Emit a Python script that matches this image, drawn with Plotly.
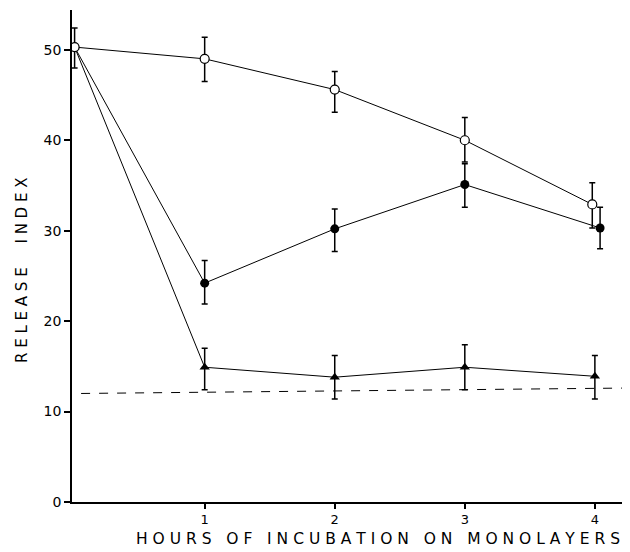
import plotly.graph_objects as go

# Hours of incubation
hours_open = [0, 1, 2, 3, 3.98]
hours_filled = [0, 1, 2, 3, 4.04]
hours_tri = [0, 1, 2, 3, 4]

# Open circles
open_mean = [50.3, 49.0, 45.6, 40.0, 32.9]
open_upper = [50.3, 51.4, 47.6, 42.5, 35.3]
open_lower = [50.3, 46.5, 43.1, 37.6, 30.3]

# Filled circles
filled_mean = [50.3, 24.2, 30.2, 35.1, 30.3]
filled_upper = [52.4, 26.7, 32.4, 37.4, 32.6]
filled_lower = [48.0, 21.9, 27.7, 32.6, 28.0]

# Filled triangles
tri_mean = [50.3, 14.9, 13.8, 14.9, 13.9]
tri_upper = [50.3, 17.0, 16.2, 17.4, 16.2]
tri_lower = [50.3, 12.4, 11.4, 12.4, 11.4]

# Dashed baseline
base_x = [0.05, 4.25]
base_y = [12.0, 12.6]

y_ticks = [0, 10, 20, 30, 40, 50]
x_ticks = [1, 2, 3, 4]

x_title = "H O U R S   O F   I N C U B A T I O N   O N   M O N O L A Y E R S"
y_title = "R E L E A S E     I N D E X"

# page body has an 8px margin; figure sized to fit inside the window
OFF = 8
W, H = 630 - OFF, 552 - OFF
L, T, B = 72 - OFF, 10 - OFF, 50
PW, PH = W - L, H - T - B


def err(mean, up, lo):
    return dict(type="data", symmetric=False,
                array=[u - m for u, m in zip(up, mean)],
                arrayminus=[m - l for m, l in zip(mean, lo)],
                color="black", thickness=1.5, width=3)


fig = go.Figure()
fig.add_trace(go.Scatter(x=base_x, y=base_y, mode="lines",
                         line=dict(color="black", width=1, dash="dash"),
                         showlegend=False, hoverinfo="skip"))
fig.add_trace(go.Scatter(x=hours_tri, y=tri_mean, mode="lines+markers",
                         line=dict(color="black", width=1),
                         marker=dict(symbol="triangle-up", size=9, color="black"),
                         error_y=err(tri_mean, tri_upper, tri_lower),
                         showlegend=False))
fig.add_trace(go.Scatter(x=hours_filled, y=filled_mean, mode="lines+markers",
                         line=dict(color="black", width=1),
                         marker=dict(symbol="circle", size=9, color="black"),
                         error_y=err(filled_mean, filled_upper, filled_lower),
                         showlegend=False))
fig.add_trace(go.Scatter(x=hours_open, y=open_mean, mode="lines+markers",
                         line=dict(color="black", width=1),
                         marker=dict(symbol="circle", size=9, color="white",
                                     line=dict(color="black", width=1.2)),
                         error_y=err(open_mean, open_upper, open_lower),
                         showlegend=False))

fig.add_annotation(text=x_title, xref="paper", yref="paper",
                   x=(378 - 72) / PW, y=-(539 - 502) / PH,
                   xanchor="center", yanchor="middle", showarrow=False,
                   font=dict(size=15.5))
fig.add_annotation(text=y_title, xref="paper", yref="paper",
                   x=-(72 - 22) / PW, y=(502 - 271) / PH, textangle=-90,
                   xanchor="center", yanchor="middle", showarrow=False,
                   font=dict(size=15))

fig.update_layout(
    width=W, height=H,
    margin=dict(l=L, r=0, t=T, b=B),
    paper_bgcolor="white", plot_bgcolor="white",
    font=dict(family="DejaVu Sans", color="black", size=14),
    xaxis=dict(range=[-0.02, 4.27], tickvals=x_ticks, ticktext=[str(t) for t in x_ticks],
               showgrid=False, zeroline=False, showline=True, linecolor="black", linewidth=1.5,
               ticks="outside", ticklen=5, tickwidth=1.5, tickcolor="black",
               tickfont=dict(size=13), automargin=False),
    yaxis=dict(range=[0, 54.4], tickvals=y_ticks, ticktext=[str(t) for t in y_ticks],
               showgrid=False, zeroline=False, showline=True, linecolor="black", linewidth=1.5,
               ticks="outside", ticklen=6, tickwidth=1.5, tickcolor="black",
               automargin=False),
)

fig.write_html("out.html")
